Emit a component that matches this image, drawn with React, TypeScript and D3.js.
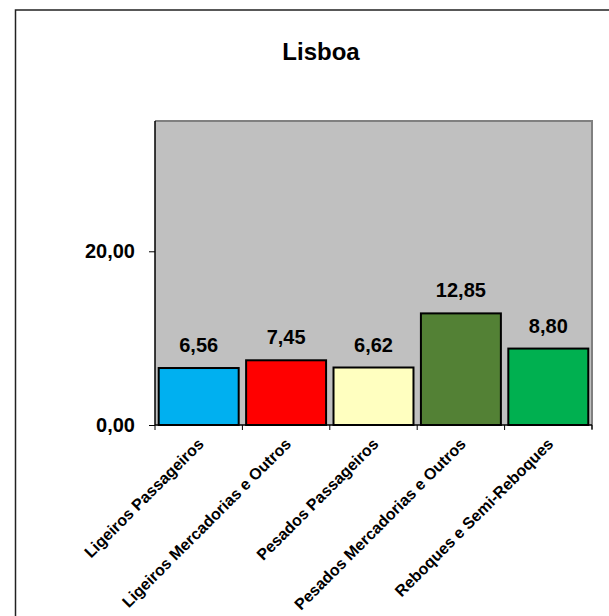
import React, { useEffect, useRef } from 'react';
import * as d3 from 'd3';

// chart data
const categories = [
  'Ligeiros Passageiros',
  'Ligeiros Mercadorias e Outros',
  'Pesados Passageiros',
  'Pesados Mercadorias e Outros',
  'Reboques e Semi-Reboques',
];
const values = [6.56, 7.45, 6.62, 12.85, 8.8];
const barColors = ['#00B0F0', '#FF0000', '#FFFFC0', '#538135', '#00B050'];
const yTicks = [0, 20];
const title = 'Lisboa';

const fmt = (v: number) => v.toFixed(2).replace('.', ',');

const App = () => {
  const ref = useRef<SVGSVGElement | null>(null);

  useEffect(() => {
    const svg = d3.select(ref.current);
    svg.selectAll('*').remove();

    const W = 609;
    const H = 616;
    const plot = { left: 155, top: 121, right: 592, bottom: 425 };

    // outer chart frame (runs past the window on right and bottom)
    svg.append('rect')
      .attr('x', 15.5).attr('y', 10)
      .attr('width', 700).attr('height', 700)
      .attr('fill', '#fff')
      .attr('stroke', '#222')
      .attr('stroke-width', 1.5);

    // title
    svg.append('text')
      .attr('x', 321).attr('y', 60)
      .attr('text-anchor', 'middle')
      .style('font-family', 'Liberation Sans, Arial, sans-serif')
      .style('font-weight', 'bold')
      .style('font-size', '24px')
      .text(title);

    const x = d3.scaleBand<string>()
      .domain(categories)
      .range([plot.left, plot.right])
      .paddingInner(0)
      .paddingOuter(0);

    const y = d3.scaleLinear()
      .domain([0, 35])
      .range([plot.bottom, plot.top]);

    // plot area
    svg.append('rect')
      .attr('x', plot.left).attr('y', plot.top)
      .attr('width', plot.right - plot.left)
      .attr('height', plot.bottom - plot.top)
      .attr('fill', '#C0C0C0');

    // gray border top & right
    svg.append('path')
      .attr('d', `M${plot.left},${plot.top}H${plot.right}V${plot.bottom + 4}`)
      .attr('fill', 'none')
      .attr('stroke', '#808080')
      .attr('stroke-width', 2);

    // bars
    const bw = x.bandwidth() * 0.915;
    const g = svg.append('g');
    g.selectAll('rect.bar')
      .data(values)
      .enter().append('rect')
      .attr('class', 'bar')
      .attr('x', (d, i) => x(categories[i])! + (x.bandwidth() - bw) / 2)
      .attr('y', d => y(d))
      .attr('width', bw)
      .attr('height', d => y(0) - y(d))
      .attr('fill', (d, i) => barColors[i])
      .attr('stroke', '#000')
      .attr('stroke-width', 2);

    // value labels
    g.selectAll('text.val')
      .data(values)
      .enter().append('text')
      .attr('class', 'val')
      .attr('x', (d, i) => x(categories[i])! + x.bandwidth() / 2)
      .attr('y', d => y(d) - 16)
      .attr('text-anchor', 'middle')
      .style('font-family', 'Liberation Sans, Arial, sans-serif')
      .style('font-weight', 'bold')
      .style('font-size', '20px')
      .text(d => fmt(d));

    // y axis
    const yAxis = svg.append('g')
      .attr('transform', `translate(${plot.left},0)`)
      .call(d3.axisLeft(y).tickValues(yTicks).tickSize(6).tickPadding(14).tickFormat(d => fmt(+d)));
    yAxis.select('.domain').attr('stroke', '#000').attr('stroke-width', 1.5).attr('d', `M0,${plot.top}V${plot.bottom}`);
    yAxis.selectAll('.tick line').attr('stroke', '#000');
    yAxis.selectAll('.tick text')
      .attr('fill', '#000')
      .style('font-family', 'Liberation Sans, Arial, sans-serif')
      .style('font-weight', 'bold')
      .style('font-size', '20px');

    // x axis line and ticks at category boundaries
    svg.append('line')
      .attr('x1', plot.left).attr('x2', plot.right)
      .attr('y1', plot.bottom).attr('y2', plot.bottom)
      .attr('stroke', '#000').attr('stroke-width', 1.5);
    const bounds = categories.map(c => x(c)!).concat([plot.right]);
    svg.selectAll('line.xt')
      .data(bounds)
      .enter().append('line')
      .attr('class', 'xt')
      .attr('x1', d => d).attr('x2', d => d)
      .attr('y1', plot.bottom).attr('y2', plot.bottom + 5)
      .attr('stroke', '#000');

    // rotated category labels
    svg.selectAll('text.cat')
      .data(categories)
      .enter().append('text')
      .attr('class', 'cat')
      .attr('transform', d => `translate(${x(d)! + x.bandwidth() / 2 + 6},${plot.bottom + 20}) rotate(-45)`)
      .attr('text-anchor', 'end')
      .style('font-family', 'Liberation Sans, Arial, sans-serif')
      .style('font-weight', 'bold')
      .style('font-size', '16px')
      .text(d => d);

    svg.attr('width', W).attr('height', H);
  }, []);

  return (
    <svg ref={ref} width={609} height={616}
      style={{ position: 'absolute', left: 0, top: 0, background: '#fff' }} />
  );
};

export default App;
